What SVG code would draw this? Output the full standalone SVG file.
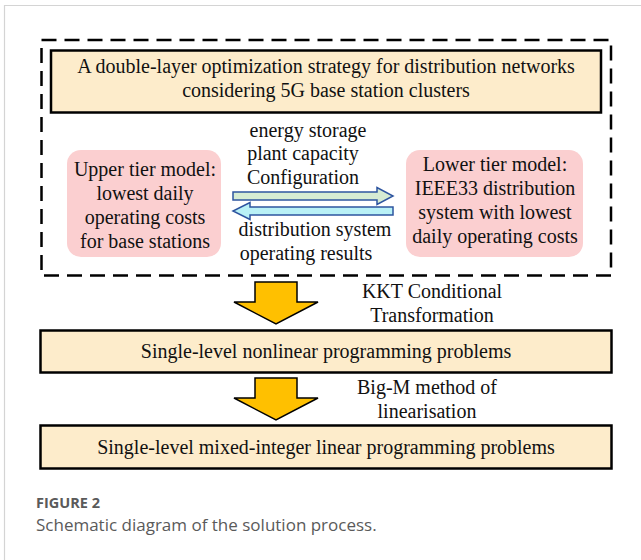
<svg xmlns="http://www.w3.org/2000/svg" width="641" height="560" viewBox="0 0 641 560">
<style>
.t{font-family:"Liberation Serif","Times New Roman",serif;font-size:20px;fill:#111;text-anchor:middle}
.box{fill:#fdeccb;stroke:#000;stroke-width:2.5}
.pink{fill:#fbcfd0;stroke:none}
.down{fill:#ffc000;stroke:#000;stroke-width:1.5;stroke-linejoin:miter}
.cap{font-family:"Open Sans","Noto Sans",sans-serif;fill:#5a5a5a}
</style>
<rect x="0" y="0" width="641" height="560" fill="#fff"/>
<path d="M4.5 560 V5.5 H641" fill="none" stroke="#d4d4d4" stroke-width="1.2"/>
<g id="outer">
<rect x="41.5" y="40" width="569.5" height="235.5" fill="none" stroke="#000" stroke-width="2.5" stroke-dasharray="15 8"/>
</g>
<g id="title">
<rect class="box" x="51" y="50.5" width="550" height="62"/>
<text class="t" x="326" y="73">A double-layer optimization strategy for distribution networks</text>
<text class="t" x="326" y="97">considering 5G base station clusters</text>
</g>
<g id="upper">
<rect class="pink" x="67" y="150" width="154" height="107" rx="14"/>
<text class="t" x="145" y="176">Upper tier model:</text>
<text class="t" x="145" y="200">lowest daily</text>
<text class="t" x="145" y="224">operating costs</text>
<text class="t" x="145" y="248">for base stations</text>
</g>
<g id="lower">
<rect class="pink" x="406" y="150" width="177" height="107" rx="14"/>
<text class="t" x="495" y="171">Lower tier model:</text>
<text class="t" x="495" y="195">IEEE33 distribution</text>
<text class="t" x="495" y="219">system with lowest</text>
<text class="t" x="495" y="243">daily operating costs</text>
</g>
<g id="connectors">
<path d="M233 192 H377 V187.5 L393 196 L377 204.5 V200 H233 Z" fill="#d6ecd3" stroke="#2e55a0" stroke-width="1.5"/>
<path d="M393 207 H250 V202.5 L233 211 L250 219.5 V215 H393 Z" fill="#b9f1f6" stroke="#2e55a0" stroke-width="1.5"/>
<text class="t" x="308" y="137">energy storage</text>
<text class="t" x="303" y="160">plant capacity</text>
<text class="t" x="303" y="184">Configuration</text>
<text class="t" x="315" y="236">distribution system</text>
<text class="t" x="306" y="260">operating results</text>
<path class="down" d="M255 282 H297 V302 H318 L276 324 L234 302 H255 Z"/>
<text class="t" x="432" y="298">KKT Conditional</text>
<text class="t" x="432" y="322">Transformation</text>
<path class="down" d="M255 378 H297 V398 H318 L276 420 L234 398 H255 Z"/>
<text class="t" x="427" y="394">Big-M method of</text>
<text class="t" x="427" y="418">linearisation</text>
</g>
<g id="nlp">
<rect class="box" x="40.5" y="330.5" width="571" height="42"/>
<text class="t" x="326" y="358">Single-level nonlinear programming problems</text>
</g>
<g id="milp">
<rect class="box" x="40.5" y="425.5" width="571" height="43"/>
<text class="t" x="326" y="454">Single-level mixed-integer linear programming problems</text>
</g>
<g id="caption">
<text class="cap" x="36" y="508" font-size="14.5" font-weight="bold">FIGURE 2</text>
<text class="cap" x="36" y="531" font-size="17">Schematic diagram of the solution process.</text>
</g>
</svg>
